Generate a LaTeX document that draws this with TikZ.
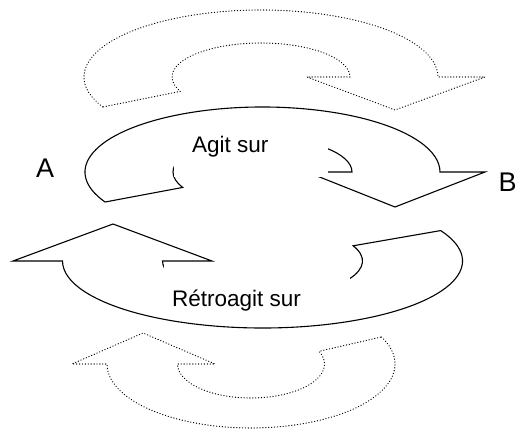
\documentclass[tikz,border=0pt]{standalone}
\usepackage{fontspec}
\setmainfont{Liberation Sans}
\begin{document}
\begin{tikzpicture}[x=1pt,y=1pt,
  solidshape/.style={draw=black,line width=1.1pt,line join=miter},
  dotshape/.style={draw=black,line width=1.1pt,line cap=round,dash pattern=on 0.3pt off 2.6pt},
  mask/.style={fill=white,draw=none},
  midlabel/.style={anchor=base west,inner sep=0pt,font=\fontsize{22.5}{27}\selectfont},
  endlabel/.style={anchor=base west,inner sep=0pt,font=\fontsize{27}{32}\selectfont}]
\useasboundingbox (0,0) rectangle (517,431);
% top dotted curved arrow
\coordinate (c1) at (261,354);
\path[dotshape] (c1) ++(206.6:177 and 67)
  arc[start angle=206.6,end angle=0,x radius=177,y radius=67]
  -- (485,354) -- (395,321) -- (307,354) -- (350,354)
  arc[start angle=0,end angle=205,x radius=89,y radius=34] -- cycle;
% top solid curved arrow
\coordinate (c2) at (262.5,259);
\path[solidshape] (c2) ++(207.5:177.5 and 65)
  arc[start angle=207.5,end angle=0,x radius=177.5,y radius=65]
  -- (485,259) -- (395,224) -- (307,259) -- (352,259)
  arc[start angle=0,end angle=207,x radius=89.5,y radius=34] -- cycle;
\fill[mask] (173.5,254) rectangle (328,312);
\node[midlabel] (agit) at (192,278) {Agit sur};
% bottom solid curved arrow
\coordinate (c3) at (262.5,170);
\path[solidshape] (c3) ++(27:200 and 67)
  arc[start angle=27,end angle=-180,x radius=200,y radius=67]
  -- (13,170) -- (113,207) -- (212,170) -- (162.5,170)
  arc[start angle=180,end angle=385,x radius=100,y radius=36] -- cycle;
\fill[mask] (163.8,115) rectangle (350,169);
\node[midlabel] (retro) at (172,124) {Rétroagit sur};
% bottom dotted curved arrow
\coordinate (c4) at (251,67);
\path[dotshape] (c4) ++(25:144 and 64)
  arc[start angle=25,end angle=-180,x radius=144,y radius=64]
  -- (72,67) -- (143,98) -- (215,67) -- (177.5,67)
  arc[start angle=180,end angle=382,x radius=73.5,y radius=34] -- cycle;
% end labels
\node[endlabel] (a) at (36,253) {A};
\node[endlabel] (b) at (498.5,239) {B};
\end{tikzpicture}
\end{document}
